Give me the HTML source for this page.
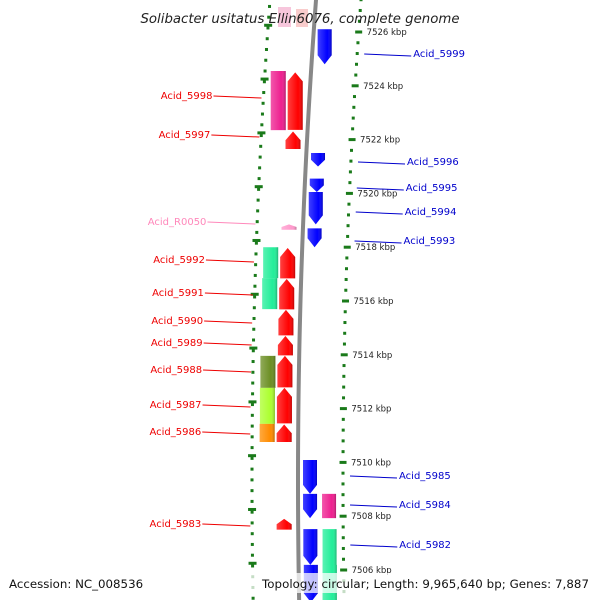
<!DOCTYPE html>
<html><head><meta charset="utf-8">
<style>
html,body{margin:0;padding:0;background:#fff;overflow:hidden;}
svg{display:block;font-family:"DejaVu Sans","Liberation Sans",sans-serif;}
</style></head>
<body>
<svg id="map" width="600" height="600" viewBox="0 0 600 600" xmlns="http://www.w3.org/2000/svg">
<defs>
<linearGradient id="shade" x1="0" x2="1" y1="0" y2="0">
<stop offset="0" stop-color="#fff" stop-opacity="0.25"/>
<stop offset="0.7" stop-color="#fff" stop-opacity="0"/>
<stop offset="1" stop-color="#000" stop-opacity="0.25"/>
</linearGradient>
</defs>
<g id="scales"></g>
<path id="backbone" fill="none" stroke="#888" stroke-width="4"/>
<g id="genes"></g>
<g id="labels"></g>
<text x="300" y="23" text-anchor="middle" font-size="13.3" font-style="italic" fill="#222">Solibacter usitatus Ellin6076, complete genome</text>
<rect x="0" y="573" width="600" height="20" fill="#fff" fill-opacity="0.75"/>
<text x="9" y="588" font-size="11.8" fill="#111">Accession: NC_008536</text>
<text x="262" y="588" font-size="11.8" fill="#111" textLength="327">Topology: circular; Length: 9,965,640 bp; Genes: 7,887</text>
</svg>
<script>
// data
const tickKbp = [7526, 7524, 7522, 7520, 7518, 7516, 7514, 7512, 7510, 7508, 7506];
const geneNames = ["Acid_5999","Acid_5998","p1","Acid_5997","Acid_5996","Acid_5995","Acid_5994","Acid_R0050","Acid_5993","Acid_5992","Acid_5992b","Acid_5991","Acid_5991b","Acid_5990","Acid_5989","Acid_5988","Acid_5988b","Acid_5987","Acid_5987b","Acid_5986","Acid_5986b","Acid_5985","Acid_5984","Acid_5984b","Acid_5983","Acid_5982","Acid_5982b","g1","g2"];
const geneStart = [7526.1,7524.55,7524.5,7522.3,7521.5,7520.55,7520.05,7518.85,7518.7,7518.0,7517.97,7516.85,7516.82,7515.67,7514.70,7513.96,7513.96,7512.77,7512.77,7511.43,7511.41,7510.09,7508.83,7508.83,7507.9,7507.52,7507.52,7506.19,7506.19];
const geneEnd   = [7524.8,7522.35,7522.36,7521.65,7521.0,7520.05,7518.85,7518.65,7518.0,7516.85,7516.84,7515.7,7515.69,7514.72,7513.98,7512.77,7512.79,7511.43,7511.45,7510.76,7510.76,7508.83,7507.93,7507.93,7507.5,7506.19,7504.8,7504.8,7504.8];
const geneStrand = [-1,0,1,1,-1,-1,-1,1,-1,0,1,0,1,1,1,0,1,0,1,0,1,-1,-1,2,1,-1,2,-1,2];
const geneColor = ["#0000ff","#ee1f8f","#ff0000","#ff0000","#0000ff","#0000ff","#0000ff","#ff99cc","#0000ff","#22ee99","#ff0000","#22ee99","#ff0000","#ff0000","#ff0000","#6b8e23","#ff0000","#adff2f","#ff0000","#ff8c00","#ff0000","#0000ff","#0000ff","#ee1f8f","#ff0000","#0000ff","#22ee99","#0000ff","#22ee99"];
const labelText = ["Acid_5999","Acid_5998","Acid_5997","Acid_R0050","Acid_5996","Acid_5995","Acid_5994","Acid_5993","Acid_5992","Acid_5991","Acid_5990","Acid_5989","Acid_5988","Acid_5987","Acid_5986","Acid_5985","Acid_5984","Acid_5983","Acid_5982"];
const labelKbp = [7525.2,7523.6,7522.2,7519.15,7521.25,7520.3,7519.4,7518.3,7517.7,7516.5,7515.5,7514.7,7513.7,7512.4,7511.4,7509.6,7508.5,7507.0,7507.0];
const labelSide = [1,-1,-1,-1,1,1,1,1,-1,-1,-1,-1,-1,-1,-1,1,1,-1,1];
const labelY = [53,95,134,221,161,187,211,240,259,292,320,342,369,404,431,475,504,523,544];
const labelColor = ["#0000cc","#ee0000","#ee0000","#ff88bb","#0000cc","#0000cc","#0000cc","#0000cc","#ee0000","#ee0000","#ee0000","#ee0000","#ee0000","#ee0000","#ee0000","#0000cc","#0000cc","#ee0000","#0000cc"];
const leftMajorKbp = [7526.25,7524.25,7522.25,7520.25,7518.25,7516.25,7514.25,7512.25,7510.25,7508.25,7506.25];

const NS="http://www.w3.org/2000/svg";
function y(k){ return 32 + (7526 - k) * 26.9; }
function bx(yy){ return 298 + (yy - 480) * (yy - 480) / 12800; }
function mk(tag, attrs, parent){ const e=document.createElementNS(NS,tag); for(const a in attrs) e.setAttribute(a,attrs[a]); parent.appendChild(e); return e; }

// backbone
let d=""; for(let yy=-5; yy<=605; yy+=5){ d += (d?"L":"M") + bx(yy).toFixed(2) + " " + yy + " "; }
document.getElementById('backbone').setAttribute('d', d);

// scales
const sc=document.getElementById('scales');
for(let k=7527.2; k>=7504.4; k-=0.4){
  const kk=Math.round(k*10)/10, yy=y(kk);
  const majR = Math.abs(kk - Math.round(kk/2)*2) < 0.01;
  const yl = y(kk-0.25);
  const xl = bx(yl) - 46, xr = bx(yy) + 45;
  const dl = mk('rect',{x:xl-1.5,y:yl-1.5,width:3,height:3,fill:'#1a7a1a'},sc);
  
  
  const w = majR ? 7 : 3;
  const dr = mk('rect',{x:xr-w/2,y:yy-1.5,width:w,height:3,fill:'#1a7a1a'},sc);
  
  
}
leftMajorKbp.forEach(k=>{
  const yy=y(k); const xl=bx(yy)-46;
  const t=mk('rect',{x:xl-4,y:yy-1.5,width:8,height:3,fill:'#1a7a1a'},sc);
  
  
});
tickKbp.forEach(k=>{
  const yy=y(k);
  const t=mk('text',{x:bx(yy)+53,y:yy+3,'font-size':'8.5',fill:'#222'},sc);
  t.textContent = k + " kbp";
  
  
});

// genes
const gg=document.getElementById('genes');
const offs={'-1':[12,14],'0':[-31,15],'1':[-14,15],'2':[31,14]};
geneStart.forEach((s,i)=>{
  const st=geneStrand[i], o=offs[st];
  const y1=y(s), y2=y(geneEnd[i]);
  const top=Math.min(y1,y2), bot=Math.max(y1,y2);
  const cx=bx((top+bot)/2)+o[0], w=o[1], xl=cx-w/2, xr=cx+w/2;
  const h=Math.min(9,(bot-top)*0.5);
  let pts;
  if(st===1) pts=`${xl},${bot} ${xl},${top+h} ${cx},${top} ${xr},${top+h} ${xr},${bot}`;
  else if(st===-1) pts=`${xl},${top} ${xr},${top} ${xr},${bot-h} ${cx},${bot} ${xl},${bot-h}`;
  else pts=`${xl},${top} ${xr},${top} ${xr},${bot} ${xl},${bot}`;
  const g=mk('g',{},gg);
  
  
  mk('polygon',{points:pts,fill:geneColor[i]},g);
  mk('polygon',{points:pts,fill:'url(#shade)'},g);
});
const f1=mk('rect',{x:278,y:7,width:13,height:20,fill:'#f7c6dc'},gg);


const f2=mk('rect',{x:296,y:9,width:12,height:18,fill:'#f9cccc'},gg);



// labels
const lg=document.getElementById('labels');
labelText.forEach((t,i)=>{
  const ly=labelY[i], side=labelSide[i], col=labelColor[i];
  const gy=y(labelKbp[i]);
  let x1,x2,tx,anchor;
  if(side<0){ x2=bx(gy)-48; x1=x2-48; tx=x1-1; anchor='end'; }
  else { x1=bx(gy)+52; x2=x1+47; tx=x2+2; anchor='start'; }
  const ln=mk('line',{x1:x1,y1:ly+1,x2:x2,y2:ly+3,stroke:col,'stroke-width':1},lg);
  
  
  const tt=mk('text',{x:tx,y:ly+4,'text-anchor':anchor,'font-size':'10',fill:col},lg);
  tt.textContent=t;
  
  
});
</script>
</body></html>
